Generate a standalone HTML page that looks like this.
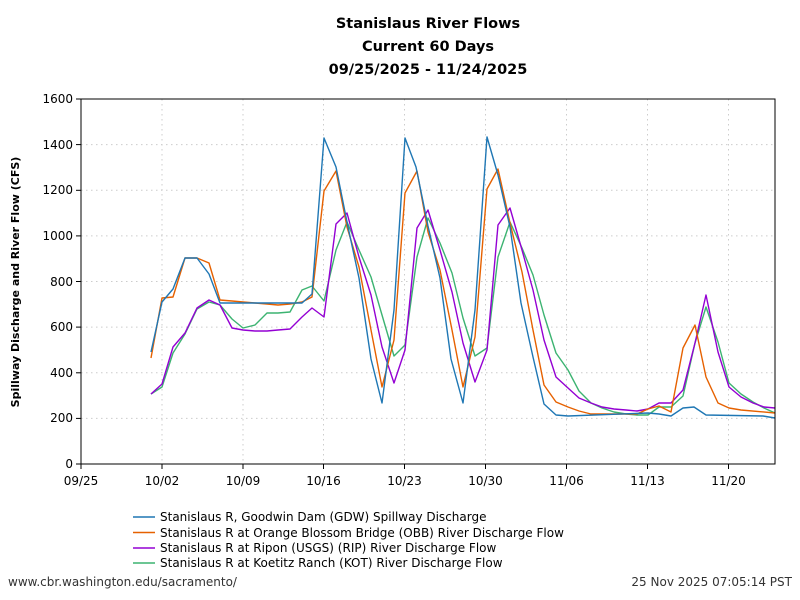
<!DOCTYPE html>
<html><head><meta charset="utf-8"><style>
body{margin:0;background:#fff}
svg{display:block;font-family:"DejaVu Sans","Liberation Sans",sans-serif}
</style></head><body>
<svg width="800" height="600" viewBox="0 0 800 600">
<rect width="800" height="600" fill="#fff"/>
<g font-weight="bold" font-size="14.5" text-anchor="middle" fill="#000">
<text x="428" y="28">Stanislaus River Flows</text>
<text x="428" y="51">Current 60 Days</text>
<text x="428" y="74">09/25/2025 - 11/24/2025</text>
</g>
<g stroke="#ccc" stroke-dasharray="1.5,3.5" stroke-width="1">
<line x1="81" x2="775" y1="418.4" y2="418.4"/><line x1="81" x2="775" y1="372.8" y2="372.8"/>
<line x1="81" x2="775" y1="327.1" y2="327.1"/><line x1="81" x2="775" y1="281.5" y2="281.5"/>
<line x1="81" x2="775" y1="235.9" y2="235.9"/><line x1="81" x2="775" y1="190.3" y2="190.3"/>
<line x1="81" x2="775" y1="144.6" y2="144.6"/>
<line y1="99" y2="464" x1="162" x2="162"/><line y1="99" y2="464" x1="243" x2="243"/>
<line y1="99" y2="464" x1="323.5" x2="323.5"/><line y1="99" y2="464" x1="404.5" x2="404.5"/>
<line y1="99" y2="464" x1="485.5" x2="485.5"/><line y1="99" y2="464" x1="566.5" x2="566.5"/>
<line y1="99" y2="464" x1="647.5" x2="647.5"/><line y1="99" y2="464" x1="728.5" x2="728.5"/>
</g>
<g fill="none" stroke-width="1.4" stroke-linejoin="round">
<polyline stroke="#3cb371" points="151,394 162,387 173,353 185,334 197,309 209,302 220,305 232,319 243,328 255,325 267,313 278,313 290,312 302,290 312,286 324,301 336,250 347,222 359,250 371,277 382,315 394,356 405,345 417,257 428,218 440,243 452,273 463,318 475,356 487,348 498,257 510,222 522,248 533,275 544,315 556,353 568,370 579,391 591,403 602,408 614,412 626,414 637,415 648,415 659,407 671,407 683,396 695,343 706,307 718,342 729,383 741,394 753,402 764,408 775,413"/>
<polyline stroke="#9400d3" points="151,394 162,384 173,347 185,333 197,308 209,300 220,305 232,328 243,330 255,331 267,331 278,330 290,329 302,317 312,308 324,317 336,224 347,213 359,257 371,295 382,347 394,383 405,350 417,228 428,210 440,250 452,292 463,343 475,382 487,350 498,225 510,208 522,250 533,290 544,340 556,377 568,388 579,398 591,403 602,407 614,409 626,410 637,411 648,409 659,403 671,403 683,390 695,343 706,295 718,352 729,387 741,397 753,403 764,407 775,408"/>
<polyline stroke="#e66100" points="151,358 162,298 173,297 185,258 197,258 209,263 220,300 232,301 243,302 255,303 267,304 278,305 290,304 302,302 312,297 324,191 336,171 347,227 359,267 371,330 382,387 394,340 405,193 417,171 428,232 440,270 452,330 463,387 475,337 487,189 498,169 510,223 522,272 533,330 544,385 556,402 568,407 579,411 591,414 637,414 648,409 659,406 671,412 683,348 695,325 706,377 718,403 729,408 741,410 775,413"/>
<polyline stroke="#1f77b4" points="151,352 162,302 173,289 185,258 197,258 209,274 220,303 302,303 312,294 324,138 336,167 348,227 359,278 371,359 382,403 394,310 405,138 416,167 428,226 440,278 451,359 463,403 475,310 487,137 498,175 510,227 521,303 533,357 544,404 556,415 568,416 648,413 659,414 671,416 683,408 694,407 706,415 763,416 775,418"/>
</g>
<rect x="81" y="99" width="694" height="365" fill="none" stroke="#000" stroke-width="1"/>
<g stroke="#000">
<line x1="76" x2="81" y1="464" y2="464"/><line x1="76" x2="81" y1="418.4" y2="418.4"/><line x1="76" x2="81" y1="372.8" y2="372.8"/><line x1="76" x2="81" y1="327.1" y2="327.1"/><line x1="76" x2="81" y1="281.5" y2="281.5"/><line x1="76" x2="81" y1="235.9" y2="235.9"/><line x1="76" x2="81" y1="190.3" y2="190.3"/><line x1="76" x2="81" y1="144.6" y2="144.6"/><line x1="76" x2="81" y1="99" y2="99"/>
<line y1="464" y2="469" x1="81" x2="81"/><line y1="464" y2="469" x1="162" x2="162"/><line y1="464" y2="469" x1="243" x2="243"/><line y1="464" y2="469" x1="323.5" x2="323.5"/><line y1="464" y2="469" x1="404.5" x2="404.5"/><line y1="464" y2="469" x1="485.5" x2="485.5"/><line y1="464" y2="469" x1="566.5" x2="566.5"/><line y1="464" y2="469" x1="647.5" x2="647.5"/><line y1="464" y2="469" x1="728.5" x2="728.5"/>
</g>
<g font-size="12" fill="#000" text-anchor="end">
<text x="73" y="468">0</text><text x="73" y="422">200</text><text x="73" y="377">400</text><text x="73" y="331">600</text><text x="73" y="286">800</text><text x="73" y="240">1000</text><text x="73" y="194">1200</text><text x="73" y="149">1400</text><text x="73" y="103">1600</text>
</g>
<g font-size="12" fill="#000" text-anchor="middle">
<text x="81" y="485">09/25</text><text x="162" y="485">10/02</text><text x="243" y="485">10/09</text><text x="323.5" y="485">10/16</text><text x="404.5" y="485">10/23</text><text x="485.5" y="485">10/30</text><text x="566.5" y="485">11/06</text><text x="647.5" y="485">11/13</text><text x="728.5" y="485">11/20</text>
</g>
<text transform="translate(19,282) rotate(-90)" font-size="11" font-weight="bold" text-anchor="middle">Spillway Discharge and River Flow (CFS)</text>
<g stroke-width="1.5">
<line x1="133" x2="155" y1="517" y2="517" stroke="#1f77b4"/>
<line x1="133" x2="155" y1="532.5" y2="532.5" stroke="#e66100"/>
<line x1="133" x2="155" y1="548" y2="548" stroke="#9400d3"/>
<line x1="133" x2="155" y1="563" y2="563" stroke="#3cb371"/>
</g>
<g font-size="12" fill="#000">
<text x="160" y="521">Stanislaus R, Goodwin Dam (GDW) Spillway Discharge</text>
<text x="160" y="537">Stanislaus R at Orange Blossom Bridge (OBB) River Discharge Flow</text>
<text x="160" y="552">Stanislaus R at Ripon (USGS) (RIP) River Discharge Flow</text>
<text x="160" y="567">Stanislaus R at Koetitz Ranch (KOT) River Discharge Flow</text>
</g>
<g font-size="12" fill="#333">
<text x="8" y="586">www.cbr.washington.edu/sacramento/</text>
<text x="792" y="586" text-anchor="end">25 Nov 2025 07:05:14 PST</text>
</g>
</svg>
</body></html>
